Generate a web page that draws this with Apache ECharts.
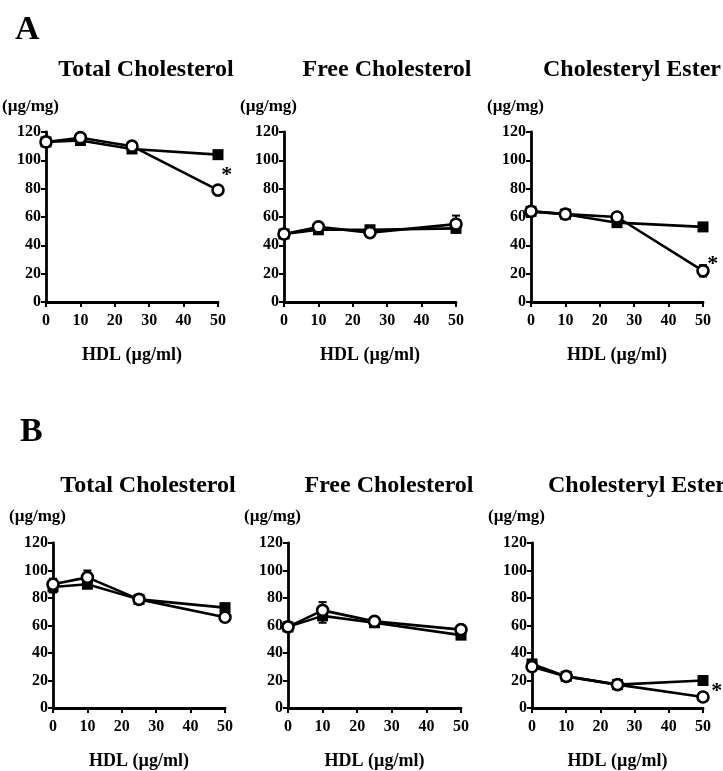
<!DOCTYPE html>
<html>
<head>
<meta charset="utf-8">
<script src="https://cdn.jsdelivr.net/npm/echarts@6/dist/echarts.min.js"></script>
<style>
html,body{margin:0;padding:0;background:#fff;}
#chart{width:723px;height:771px;}
</style>
</head>
<body>
<div id="chart"></div>
<script>
// ---- data ----
const hdlDoses = [0, 10, 25, 50];
const yTicks = [0, 20, 40, 60, 80, 100, 120];
const xTicks = [0, 10, 20, 30, 40, 50];
const panelTitles = ['Total Cholesterol', 'Free Cholesterol', 'Cholesteryl Ester'];
const rowLabels = ['A', 'B'];
const unitLabel = '(\u00b5g/mg)';
const xAxisName = 'HDL (\u00b5g/ml)';

// Row A
const aTotalSolid = [113, 114, 108, 104];
const aTotalOpen  = [113, 116, 110, 79];
const aFreeSolid  = [48, 51, 51, 52];
const aFreeOpen   = [48, 53, 49, 55];
const aEsterSolid = [64, 62, 56, 53];
const aEsterOpen  = [64, 62, 60, 22];
// Row B
const bTotalSolid = [88, 90, 79, 73];
const bTotalOpen  = [90, 95, 79, 66];
const bFreeSolid  = [59, 67, 62, 53];
const bFreeOpen   = [59, 71, 63, 57];
const bEsterSolid = [32, 23, 17, 20];
const bEsterOpen  = [30, 23, 17, 8];

// error bars (SEM), 0 = not visible
const aTotalSolidErr = [0, 0, 0, 0];
const aTotalOpenErr  = [0, 0, 0, 0];
const aFreeSolidErr  = [0, 0, 0, 0];
const aFreeOpenErr   = [0, 0, 0, 6];
const aEsterSolidErr = [0, 0, 0, 0];
const aEsterOpenErr  = [0, 0, 0, 4];
const bTotalSolidErr = [4, 0, 0, 0];
const bTotalOpenErr  = [4, 5, 0, 0];
const bFreeSolidErr  = [0, 5, 0, 0];
const bFreeOpenErr   = [0, 6, 0, 0];
const bEsterSolidErr = [3, 0, 0, 0];
const bEsterOpenErr  = [0, 0, 0, 0];

// significance marks (*) on the open series
const aTotalSig = [false, false, false, true];
const aFreeSig  = [false, false, false, false];
const aEsterSig = [false, false, false, true];
const bTotalSig = [false, false, false, false];
const bFreeSig  = [false, false, false, false];
const bEsterSig = [false, false, false, true];

// ---- layout ----
const FONT = '"Liberation Serif", "DejaVu Serif", serif';
const grids = [
  {left: 46,  top: 132, width: 172, height: 170, titleX: 141, titleTop: 53,  unitTop: 98},
  {left: 284, top: 132, width: 172, height: 170, titleX: 382, titleTop: 53,  unitTop: 98},
  {left: 531, top: 132, width: 172, height: 170, titleX: 627, titleTop: 53,  unitTop: 98},
  {left: 53,  top: 543, width: 172, height: 170, titleX: 143, titleTop: 469, unitTop: 508},
  {left: 288, top: 543, width: 173, height: 170, titleX: 384, titleTop: 469, unitTop: 508},
  {left: 532, top: 543, width: 171, height: 170, titleX: 632, titleTop: 469, unitTop: 508}
];
const panels = [
  {solid: aTotalSolid, open: aTotalOpen, se: aTotalSolidErr, oe: aTotalOpenErr, sig: aTotalSig, sigOff: [10, -19]},
  {solid: aFreeSolid,  open: aFreeOpen,  se: aFreeSolidErr,  oe: aFreeOpenErr,  sig: aFreeSig,  sigOff: [10, -19]},
  {solid: aEsterSolid, open: aEsterOpen, se: aEsterSolidErr, oe: aEsterOpenErr, sig: aEsterSig, sigOff: [11, -11]},
  {solid: bTotalSolid, open: bTotalOpen, se: bTotalSolidErr, oe: bTotalOpenErr, sig: bTotalSig, sigOff: [10, -19]},
  {solid: bFreeSolid,  open: bFreeOpen,  se: bFreeSolidErr,  oe: bFreeOpenErr,  sig: bFreeSig,  sigOff: [10, -19]},
  {solid: bEsterSolid, open: bEsterOpen, se: bEsterSolidErr, oe: bEsterOpenErr, sig: bEsterSig, sigOff: [15, -10]}
];

const option = {
  animation: false,
  backgroundColor: '#fff',
  title: [],
  grid: [],
  xAxis: [],
  yAxis: [],
  series: [],
  graphic: []
};

const axisLine = {show: true, onZero: false, lineStyle: {color: '#000', width: 2.8}};
const axisTick = {show: true, inside: false, length: 5, lineStyle: {color: '#000', width: 2}};
const labelStyle = {color: '#000', fontFamily: FONT, fontWeight: 'bold', fontSize: 16};

function errRender(params, api) {
  const x = api.value(0), lo = api.value(1), hi = api.value(2);
  const pLo = api.coord([x, lo]);
  const pHi = api.coord([x, hi]);
  const cap = 4;
  return {
    type: 'group',
    children: [
      {type: 'line', shape: {x1: pLo[0], y1: pLo[1], x2: pHi[0], y2: pHi[1]}, style: {stroke: '#000', lineWidth: 2}},
      {type: 'line', shape: {x1: pHi[0] - cap, y1: pHi[1], x2: pHi[0] + cap, y2: pHi[1]}, style: {stroke: '#000', lineWidth: 2}},
      {type: 'line', shape: {x1: pLo[0] - cap, y1: pLo[1], x2: pLo[0] + cap, y2: pLo[1]}, style: {stroke: '#000', lineWidth: 2}}
    ]
  };
}

panels.forEach((p, i) => {
  const g = grids[i];
  option.grid.push({left: g.left, top: g.top, width: g.width, height: g.height, containLabel: false});
  option.xAxis.push({
    type: 'value', gridIndex: i, min: xTicks[0], max: xTicks[xTicks.length - 1], interval: 10,
    axisLine: axisLine, axisTick: axisTick, splitLine: {show: false},
    axisLabel: Object.assign({margin: 11}, labelStyle),
    name: xAxisName, nameLocation: 'middle', nameGap: 44,
    nameTextStyle: {color: '#000', fontFamily: FONT, fontWeight: 'bold', fontSize: 18}
  });
  option.yAxis.push({
    type: 'value', gridIndex: i, min: yTicks[0], max: yTicks[yTicks.length - 1], interval: 20,
    axisLine: axisLine, axisTick: axisTick, splitLine: {show: false},
    axisLabel: Object.assign({margin: 5}, labelStyle)
  });

  // error bars
  const errData = [];
  hdlDoses.forEach((x, k) => {
    if (p.se[k] > 0) errData.push([x, p.solid[k] - p.se[k], p.solid[k] + p.se[k]]);
    if (p.oe[k] > 0) errData.push([x, p.open[k] - p.oe[k], p.open[k] + p.oe[k]]);
  });
  option.series.push({
    type: 'custom', xAxisIndex: i, yAxisIndex: i, renderItem: errRender,
    data: errData, z: 1, silent: true
  });

  option.series.push({
    type: 'line', xAxisIndex: i, yAxisIndex: i,
    data: hdlDoses.map((x, k) => [x, p.solid[k]]),
    symbol: 'rect', symbolSize: 11,
    lineStyle: {color: '#000', width: 2.6},
    itemStyle: {color: '#000', borderColor: '#000', borderWidth: 0},
    z: 3
  });
  option.series.push({
    type: 'line', xAxisIndex: i, yAxisIndex: i,
    data: hdlDoses.map((x, k) => {
      const d = {value: [x, p.open[k]]};
      if (p.sig[k]) {
        d.label = {show: true, formatter: '*', position: p.sigOff,
          color: '#000', fontFamily: FONT, fontWeight: 'bold', fontSize: 22};
      }
      return d;
    }),
    symbol: 'circle', symbolSize: 11, showAllSymbol: true,
    lineStyle: {color: '#000', width: 2.6},
    itemStyle: {color: '#fff', borderColor: '#000', borderWidth: 2.6},
    z: 4
  });

  // panel title
  option.title.push({
    text: panelTitles[i % 3],
    left: g.titleX,
    top: g.titleTop,
    textAlign: 'center',
    textStyle: {color: '#000', fontFamily: FONT, fontWeight: 'bold', fontSize: 24}
  });

  // unit label
  option.graphic.push({
    type: 'text', left: g.left - 44, top: g.unitTop,
    style: {text: unitLabel, fill: '#000', font: 'bold 17px ' + FONT}
  });
});

// row labels
option.title.push({text: rowLabels[0], left: 10, top: 8,
  textStyle: {color: '#000', fontFamily: FONT, fontWeight: 'bold', fontSize: 34}});
option.title.push({text: rowLabels[1], left: 15, top: 410,
  textStyle: {color: '#000', fontFamily: FONT, fontWeight: 'bold', fontSize: 34}});

const chart = echarts.init(document.getElementById('chart'), null, {renderer: 'canvas'});
chart.setOption(option);
</script>
</body>
</html>
